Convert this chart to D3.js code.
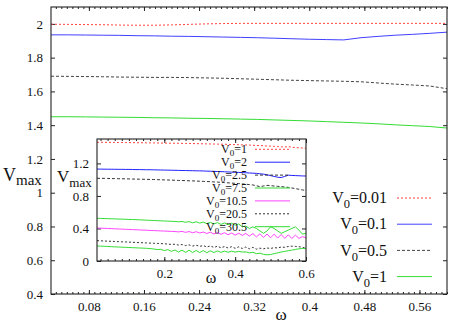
<!DOCTYPE html>
<html>
  <head>
    <meta charset="utf-8">
    <title>Vmax vs omega</title>
    <script src="https://cdn.jsdelivr.net/npm/d3@7"></script>
    <style>
      body { margin: 0; background: #fff; }
      svg { display: block; }
      svg text { font-family: "Liberation Serif", "Times New Roman", Times, "DejaVu Serif", "Noto Serif", serif; }
    </style>
  </head>
  <body>
    <svg id="chart" width="471" height="327"></svg>
    <script>
      // ---- main panel data ----
      const mainOmega = [0.025, 0.05, 0.075, 0.1, 0.125, 0.15, 0.175, 0.2, 0.225, 0.25, 0.275, 0.3,
                         0.325, 0.35, 0.375, 0.4, 0.425, 0.45, 0.475, 0.5, 0.525, 0.55, 0.575, 0.6];
      const mainV001 = [1.998, 1.997, 1.996, 1.995, 1.993, 1.992, 1.992, 1.994, 1.997, 2.0, 2.002, 2.003,
                        2.003, 2.003, 2.003, 2.003, 2.003, 2.003, 2.003, 2.003, 2.003, 2.003, 2.003, 2.003];
      const mainV01 = [1.935, 1.935, 1.934, 1.933, 1.932, 1.93, 1.929, 1.927, 1.926, 1.924, 1.922, 1.92,
                       1.918, 1.915, 1.912, 1.909, 1.907, 1.905, 1.918, 1.926, 1.933, 1.938, 1.944, 1.951];
      const mainV05 = [1.69, 1.689, 1.688, 1.687, 1.685, 1.684, 1.683, 1.683, 1.682, 1.68, 1.678, 1.675,
                       1.672, 1.669, 1.666, 1.664, 1.662, 1.66, 1.657, 1.65, 1.643, 1.638, 1.632, 1.616];
      const mainV1 = [1.45, 1.45, 1.449, 1.448, 1.447, 1.446, 1.444, 1.443, 1.441, 1.44, 1.438, 1.436,
                      1.434, 1.431, 1.428, 1.425, 1.421, 1.417, 1.413, 1.408, 1.402, 1.397, 1.392, 1.383];
      const mainLabels = ["0.01", "0.1", "0.5", "1"];
      const mainXTicks = [0.08, 0.16, 0.24, 0.32, 0.4, 0.48, 0.56];
      const mainYTicks = [0.4, 0.6, 0.8, 1, 1.2, 1.4, 1.6, 1.8, 2];

      // ---- inset data ----
      const insetOmega = [0.01, 0.02, 0.03, 0.04, 0.05, 0.06, 0.07, 0.08, 0.09, 0.1,
                          0.11, 0.12, 0.13, 0.14, 0.15, 0.16, 0.17, 0.18, 0.19, 0.2,
                          0.21, 0.22, 0.23, 0.24, 0.25, 0.26, 0.27, 0.28, 0.29, 0.3,
                          0.31, 0.32, 0.33, 0.34, 0.35, 0.36, 0.37, 0.38, 0.39, 0.4,
                          0.41, 0.42, 0.43, 0.44, 0.45, 0.46, 0.47, 0.48, 0.49, 0.5,
                          0.51, 0.52, 0.53, 0.54, 0.55, 0.56, 0.57, 0.58, 0.59, 0.6];
      const insetV1 = [1.46, 1.46, 1.459, 1.459, 1.458, 1.458, 1.457, 1.457, 1.456, 1.456,
                       1.455, 1.455, 1.454, 1.454, 1.453, 1.452, 1.452, 1.451, 1.45, 1.45,
                       1.449, 1.448, 1.448, 1.447, 1.446, 1.446, 1.445, 1.444, 1.443, 1.442,
                       1.441, 1.44, 1.439, 1.438, 1.437, 1.436, 1.435, 1.434, 1.432, 1.431,
                       1.43, 1.428, 1.427, 1.425, 1.423, 1.421, 1.419, 1.417, 1.414, 1.412,
                       1.41, 1.407, 1.404, 1.401, 1.408, 1.398, 1.394, 1.392, 1.389, 1.386];
      const insetV2 = [1.13, 1.13, 1.129, 1.129, 1.128, 1.128, 1.127, 1.127, 1.126, 1.126,
                       1.125, 1.124, 1.124, 1.123, 1.122, 1.122, 1.121, 1.12, 1.119, 1.118,
                       1.117, 1.116, 1.115, 1.114, 1.113, 1.112, 1.111, 1.11, 1.109, 1.108,
                       1.107, 1.105, 1.104, 1.102, 1.1, 1.099, 1.097, 1.095, 1.093, 1.091,
                       1.089, 1.087, 1.085, 1.082, 1.08, 1.077, 1.072, 1.068, 1.06, 1.05,
                       1.04, 1.03, 1.026, 1.04, 1.055, 1.052, 1.05, 1.048, 1.046, 1.045];
      const insetV25 = [1.017, 1.016, 1.016, 1.015, 1.014, 1.013, 1.012, 1.011, 1.01, 1.009,
                        1.008, 1.007, 1.006, 1.005, 1.004, 1.003, 1.002, 1.0, 0.999, 0.997,
                        0.996, 0.994, 0.993, 0.991, 0.99, 0.988, 0.986, 0.985, 0.983, 0.981,
                        0.979, 0.977, 0.975, 0.972, 0.97, 0.967, 0.964, 0.961, 0.958, 0.955,
                        0.952, 0.948, 0.944, 0.94, 0.935, 0.925, 0.915, 0.922, 0.93, 0.926,
                        0.922, 0.918, 0.914, 0.91, 0.905, 0.898, 0.89, 0.882, 0.874, 0.866];
      const insetV75 = [0.525, 0.524, 0.522, 0.521, 0.519, 0.518, 0.516, 0.515, 0.513, 0.511,
                        0.51, 0.508, 0.506, 0.504, 0.502, 0.5, 0.498, 0.496, 0.494, 0.492,
                        0.49, 0.488, 0.486, 0.482, 0.486, 0.476, 0.484, 0.47, 0.482, 0.466,
                        0.478, 0.46, 0.475, 0.455, 0.472, 0.45, 0.468, 0.446, 0.465, 0.44,
                        0.455, 0.42, 0.43, 0.4, 0.42, 0.4, 0.37, 0.34, 0.37, 0.42,
                        0.4, 0.37, 0.34, 0.36, 0.38, 0.4, 0.42, 0.38, 0.33, 0.34];
      const insetV105 = [0.405, 0.404, 0.402, 0.4, 0.398, 0.396, 0.394, 0.392, 0.39, 0.388,
                         0.386, 0.384, 0.382, 0.38, 0.378, 0.376, 0.374, 0.372, 0.37, 0.368,
                         0.366, 0.364, 0.362, 0.358, 0.364, 0.352, 0.362, 0.348, 0.36, 0.344,
                         0.356, 0.338, 0.354, 0.332, 0.35, 0.328, 0.348, 0.322, 0.344, 0.318,
                         0.342, 0.314, 0.34, 0.306, 0.338, 0.296, 0.334, 0.29, 0.332, 0.286,
                         0.33, 0.282, 0.326, 0.278, 0.322, 0.276, 0.318, 0.278, 0.3, 0.285];
      const insetV205 = [0.25, 0.248, 0.246, 0.244, 0.242, 0.24, 0.238, 0.236, 0.234, 0.232,
                         0.23, 0.228, 0.226, 0.224, 0.222, 0.22, 0.218, 0.216, 0.214, 0.212,
                         0.208, 0.204, 0.206, 0.196, 0.202, 0.19, 0.198, 0.184, 0.194, 0.18,
                         0.19, 0.172, 0.186, 0.166, 0.182, 0.162, 0.178, 0.16, 0.176, 0.156,
                         0.174, 0.154, 0.172, 0.15, 0.168, 0.146, 0.158, 0.15, 0.16, 0.154,
                         0.164, 0.16, 0.172, 0.168, 0.178, 0.182, 0.18, 0.176, 0.168, 0.158];
      const insetV305 = [0.185, 0.183, 0.181, 0.179, 0.176, 0.174, 0.172, 0.17, 0.168, 0.166,
                         0.164, 0.162, 0.16, 0.158, 0.156, 0.152, 0.148, 0.14, 0.144, 0.128,
                         0.14, 0.118, 0.136, 0.11, 0.134, 0.106, 0.132, 0.104, 0.13, 0.104,
                         0.128, 0.102, 0.126, 0.104, 0.124, 0.106, 0.122, 0.108, 0.12, 0.11,
                         0.118, 0.11, 0.112, 0.1, 0.108, 0.09, 0.096, 0.082, 0.076, 0.08,
                         0.09, 0.1, 0.11, 0.118, 0.126, 0.134, 0.142, 0.15, 0.154, 0.155];
      const insetLabels = ["1", "2", "2.5", "7.5", "10.5", "20.5", "30.5"];
      const insetXTicks = [0.2, 0.4, 0.6];
      const insetYTicks = [0, 0.4, 0.8, 1.2];

      const svg = d3.select("#chart");

      // main panel
      drawPanel({
        box: { left: 51, right: 447, top: 7, bottom: 294 },
        xDomain: [0.025, 0.6], yDomain: [0.4, 2.1],
        xTicks: mainXTicks, yTicks: mainYTicks, minorStep: 0.008,
        series: [
          { x: mainOmega, y: mainV001, color: "#ff4040", dash: "2,2" },
          { x: mainOmega, y: mainV01, color: "#4040ff", dash: null },
          { x: mainOmega, y: mainV05, color: "#444", dash: "3,2" },
          { x: mainOmega, y: mainV1, color: "#33dd33", dash: null }
        ],
        labels: mainLabels,
        legend: { textX: 387, lineX0: 397, lineX1: 432, y0: 198, dy: 26.2, font: 16, sub: 12.5, subDy: 5 },
        yLabel: { x: 3, y: 181, font: 18, sub: 15, subDy: 4 },
        xLabel: { x: 281, y: 320, font: 17 },
        tickFont: 13
      });

      // inset panel, white background hides the main curves
      drawPanel({
        box: { left: 97, right: 306, top: 139, bottom: 261 },
        xDomain: [0.01, 0.6], yDomain: [0, 1.5],
        xTicks: insetXTicks, yTicks: insetYTicks, minorStep: 0.02,
        series: [
          { x: insetOmega, y: insetV1, color: "#ff4040", dash: "2,2" },
          { x: insetOmega, y: insetV2, color: "#2020ff", dash: null },
          { x: insetOmega, y: insetV25, color: "#333", dash: "3,2" },
          { x: insetOmega, y: insetV75, color: "#33dd33", dash: null },
          { x: insetOmega, y: insetV105, color: "#ff44ff", dash: null },
          { x: insetOmega, y: insetV205, color: "#333", dash: "2,2" },
          { x: insetOmega, y: insetV305, color: "#33dd33", dash: null }
        ],
        labels: insetLabels,
        legend: { textX: 247, lineX0: 255, lineX1: 290, y0: 149.3, dy: 12.9, font: 12, sub: 9, subDy: 3 },
        yLabel: { x: 57, y: 182, font: 17, sub: 13, subDy: 5 },
        xLabel: { x: 211, y: 283, font: 16 },
        tickFont: 13,
        background: true
      });

      function drawPanel(p) {
        const b = p.box;
        const g = svg.append("g");
        const x = d3.scaleLinear().domain(p.xDomain).range([b.left, b.right]);
        const y = d3.scaleLinear().domain(p.yDomain).range([b.bottom, b.top]);
        const clipId = "clip" + b.left;

        if (p.background) {
          g.append("rect")
            .attr("x", b.left).attr("y", b.top)
            .attr("width", b.right - b.left).attr("height", b.bottom - b.top)
            .attr("fill", "#fff");
        }
        g.append("clipPath").attr("id", clipId)
          .append("rect")
            .attr("x", b.left).attr("y", b.top)
            .attr("width", b.right - b.left).attr("height", b.bottom - b.top);

        // minor ticks on x (bottom and top)
        const minor = d3.range(0, p.xDomain[1] + 1e-9, p.minorStep)
          .filter(v => v >= p.xDomain[0] - 1e-9);
        g.append("g").attr("transform", `translate(0,${b.bottom})`)
          .call(d3.axisBottom(x).tickValues(minor).tickSize(-2).tickFormat(""));
        g.append("g").attr("transform", `translate(0,${b.top})`)
          .call(d3.axisTop(x).tickValues(minor).tickSize(-2).tickFormat(""));

        // major ticks
        g.append("g").attr("transform", `translate(0,${b.bottom})`)
          .call(d3.axisBottom(x).tickValues(p.xTicks).tickSizeInner(-4).tickSizeOuter(0)
            .tickPadding(8).tickFormat(d => String(d)));
        g.append("g").attr("transform", `translate(0,${b.top})`)
          .call(d3.axisTop(x).tickValues(p.xTicks).tickSize(-4).tickFormat(""));
        g.append("g").attr("transform", `translate(${b.left},0)`)
          .call(d3.axisLeft(y).tickValues(p.yTicks).tickSizeInner(-4).tickSizeOuter(0)
            .tickPadding(8).tickFormat(d => String(d)));
        g.append("g").attr("transform", `translate(${b.right},0)`)
          .call(d3.axisRight(y).tickValues(p.yTicks).tickSize(-4).tickFormat(""));

        g.selectAll(".domain").remove();
        g.selectAll("g").attr("font-family", null);
        g.selectAll(".tick line").attr("stroke", "#222");
        g.selectAll(".tick text")
          .attr("font-size", p.tickFont)
          .attr("fill", "#111");

        // curves
        const line = d3.line().x(d => x(d[0])).y(d => y(d[1]));
        const curves = g.append("g").attr("clip-path", `url(#${clipId})`);
        p.series.forEach(s => {
          curves.append("path")
            .datum(s.x.map((v, i) => [v, s.y[i]]))
            .attr("d", line)
            .attr("fill", "none")
            .attr("stroke", s.color)
            .attr("stroke-width", 1)
            .attr("stroke-dasharray", s.dash);
        });

        // frame
        g.append("rect")
          .attr("x", b.left).attr("y", b.top)
          .attr("width", b.right - b.left).attr("height", b.bottom - b.top)
          .attr("fill", "none").attr("stroke", "#222").attr("stroke-width", 1.1);

        // legend
        const lg = p.legend;
        p.series.forEach((s, i) => {
          const ly = lg.y0 + i * lg.dy;
          const t = g.append("text")
            .attr("x", lg.textX).attr("y", ly + lg.font * 0.32)
            .attr("text-anchor", "end")
            .attr("font-size", lg.font)
            .attr("fill", "#111");
          t.append("tspan").text("V");
          t.append("tspan").attr("font-size", lg.sub).attr("dy", lg.subDy).text("0");
          t.append("tspan").attr("dy", -lg.subDy).text("=" + p.labels[i]);
          g.append("line")
            .attr("x1", lg.lineX0).attr("x2", lg.lineX1)
            .attr("y1", ly).attr("y2", ly)
            .attr("stroke", s.color).attr("stroke-width", 1)
            .attr("stroke-dasharray", s.dash);
        });

        // axis titles
        const yl = p.yLabel;
        const yt = g.append("text")
          .attr("x", yl.x).attr("y", yl.y)
          .attr("font-size", yl.font).attr("fill", "#111");
        yt.append("tspan").text("V");
        yt.append("tspan").attr("font-size", yl.sub).attr("dy", yl.subDy).text("max");

        g.append("text")
          .attr("x", p.xLabel.x).attr("y", p.xLabel.y)
          .attr("text-anchor", "middle")
          .attr("font-size", p.xLabel.font).attr("fill", "#111")
          .text("ω");
      }
    </script>
  </body>
</html>
